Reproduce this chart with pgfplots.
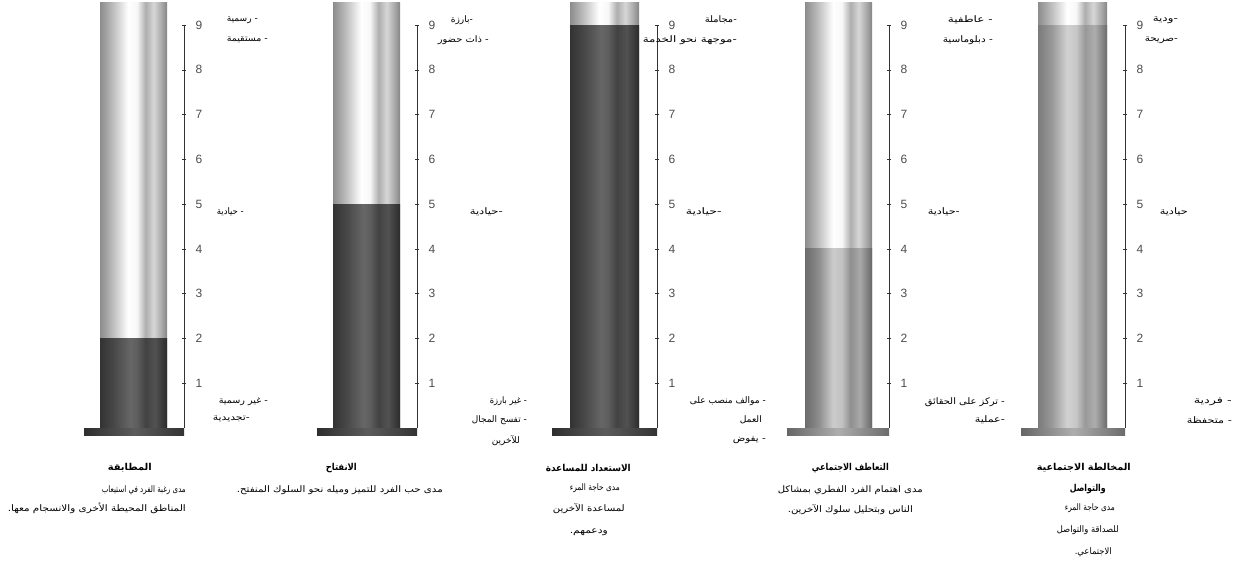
\documentclass[border=0pt]{standalone}
\usepackage{pgfplots}
\pgfplotsset{compat=1.18}
\usepackage{graphicx}
\usepackage{fontspec}
\setmainfont{Liberation Sans}
\newfontfamily\ar[Script=Arabic]{DejaVu Sans}
\TeXXeTstate=1

\pgfdeclarehorizontalshading{lightcyl}{100bp}{rgb(0bp)=(0.55,0.55,0.55); rgb(25bp)=(0.55,0.55,0.55); rgb(35bp)=(0.75,0.75,0.75); rgb(46bp)=(1,1,1); rgb(52.5bp)=(0.97,0.97,0.97); rgb(59bp)=(0.68,0.68,0.68); rgb(65bp)=(0.84,0.84,0.84); rgb(71bp)=(0.66,0.66,0.66); rgb(75bp)=(0.52,0.52,0.52); rgb(100bp)=(0.52,0.52,0.52)}
\pgfdeclarehorizontalshading{darkcyl}{100bp}{rgb(0bp)=(0.2,0.2,0.2); rgb(25bp)=(0.2,0.2,0.2); rgb(35bp)=(0.28,0.28,0.28); rgb(47.5bp)=(0.40,0.40,0.40); rgb(52.5bp)=(0.37,0.37,0.37); rgb(59bp)=(0.26,0.26,0.26); rgb(66bp)=(0.32,0.32,0.32); rgb(75bp)=(0.17,0.17,0.17); rgb(100bp)=(0.17,0.17,0.17)}
\pgfdeclarehorizontalshading{midcyl}{100bp}{rgb(0bp)=(0.42,0.42,0.42); rgb(25bp)=(0.42,0.42,0.42); rgb(35bp)=(0.55,0.55,0.55); rgb(46bp)=(0.80,0.80,0.80); rgb(52.5bp)=(0.76,0.76,0.76); rgb(59bp)=(0.56,0.56,0.56); rgb(66bp)=(0.66,0.66,0.66); rgb(75bp)=(0.40,0.40,0.40); rgb(100bp)=(0.40,0.40,0.40)}
\pgfdeclarehorizontalshading{midcylb}{100bp}{rgb(0bp)=(0.48,0.48,0.48); rgb(25bp)=(0.48,0.48,0.48); rgb(35bp)=(0.60,0.60,0.60); rgb(46bp)=(0.82,0.82,0.82); rgb(52.5bp)=(0.78,0.78,0.78); rgb(59bp)=(0.60,0.60,0.60); rgb(66bp)=(0.68,0.68,0.68); rgb(75bp)=(0.42,0.42,0.42); rgb(100bp)=(0.42,0.42,0.42)}
\pgfdeclarehorizontalshading{basedark}{100bp}{rgb(0bp)=(0.18,0.18,0.18); rgb(25bp)=(0.18,0.18,0.18); rgb(50bp)=(0.36,0.36,0.36); rgb(75bp)=(0.2,0.2,0.2); rgb(100bp)=(0.2,0.2,0.2)}
\pgfdeclarehorizontalshading{basegray}{100bp}{rgb(0bp)=(0.40,0.40,0.40); rgb(25bp)=(0.40,0.40,0.40); rgb(50bp)=(0.68,0.68,0.68); rgb(75bp)=(0.42,0.42,0.42); rgb(100bp)=(0.42,0.42,0.42)}

\pgfplotsset{panel/.style={scale only axis, height=403pt, ymin=0, ymax=9, xmin=0, clip=false,
  axis x line=none, axis y line=right, axis line style={-, draw=black!80},
  ytick={1,2,3,4,5,6,7,8,9}, tick align=center, major tick length=4pt, tick style={black!80, thin},
  yticklabel style={font=\fontsize{12}{12}\selectfont, text=black!70, xshift=6pt},
  /pgf/number format/assume math mode=true, anchor=south west}}

\tikzset{L/.style={inner sep=0pt, anchor=east, font=\ar\fontsize{9}{11}\selectfont},
         T/.style={inner sep=0pt, anchor=east, font=\ar\bfseries\fontsize{9.5}{11}\selectfont}}
% right edge x, centre y, target width, text
\newcommand\fw[2]{\resizebox{#1pt}{\height}{#2}}
\newcommand\lab[4]{\node[L] at (#1,#2) {\fw{#3}{#4}};}
\newcommand\ttl[4]{\node[T] at (#1,#2) {\fw{#3}{#4}};}

\begin{document}
\begin{tikzpicture}[x=1pt,y=1pt]
\useasboundingbox (0,0) rectangle (1234,560);

% Panel 1
\begin{axis}[panel, at={(84pt,132pt)}, width=100pt, xmax=100]
\addplot[ybar, bar width=67pt, bar shift=0pt, draw=none, shading=lightcyl] coordinates {(49.5,9.5)};
\addplot[ybar, bar width=67pt, bar shift=0pt, draw=none, shading=darkcyl] coordinates {(49.5,2)};
\addplot[draw=none, shading=basedark] coordinates {(0,-0.16) (100,-0.16) (100,0) (0,0)} -- cycle;
\end{axis}
% Panel 2
\begin{axis}[panel, at={(317pt,132pt)}, width=100pt, xmax=100]
\addplot[ybar, bar width=67pt, bar shift=0pt, draw=none, shading=lightcyl] coordinates {(49.5,9.5)};
\addplot[ybar, bar width=67pt, bar shift=0pt, draw=none, shading=darkcyl] coordinates {(49.5,5)};
\addplot[draw=none, shading=basedark] coordinates {(0,-0.16) (100,-0.16) (100,0) (0,0)} -- cycle;
\end{axis}
% Panel 3
\begin{axis}[panel, at={(552pt,132pt)}, width=105pt, xmax=105]
\addplot[ybar, bar width=69pt, bar shift=0pt, draw=none, shading=lightcyl] coordinates {(52.5,9.5)};
\addplot[ybar, bar width=69pt, bar shift=0pt, draw=none, shading=darkcyl] coordinates {(52.5,9)};
\addplot[draw=none, shading=basedark] coordinates {(0,-0.16) (105,-0.16) (105,0) (0,0)} -- cycle;
\end{axis}
% Panel 4
\begin{axis}[panel, at={(787pt,132pt)}, width=102pt, xmax=102]
\addplot[ybar, bar width=67pt, bar shift=0pt, draw=none, shading=lightcyl] coordinates {(51.5,9.5)};
\addplot[ybar, bar width=67pt, bar shift=0pt, draw=none, shading=midcyl] coordinates {(51.5,4)};
\addplot[draw=none, shading=basegray] coordinates {(0,-0.16) (102,-0.16) (102,0) (0,0)} -- cycle;
\end{axis}
% Panel 5
\begin{axis}[panel, at={(1021pt,132pt)}, width=104pt, xmax=104]
\addplot[ybar, bar width=69pt, bar shift=0pt, draw=none, shading=lightcyl] coordinates {(51.5,9.5)};
\addplot[ybar, bar width=69pt, bar shift=0pt, draw=none, shading=midcylb] coordinates {(51.5,9)};
\addplot[draw=none, shading=basegray] coordinates {(0,-0.16) (104,-0.16) (104,0) (0,0)} -- cycle;
\end{axis}

% Panel 1 texts
\lab{258}{540}{31}{\beginR - رسمية\endR}
\lab{268}{520}{41}{\beginR - مستقيمة\endR}
\lab{244}{348}{27}{\beginR - حيادية\endR}
\lab{268}{158}{49}{\beginR - غير رسمية\endR}
\lab{250}{141}{37}{\beginR -تجديدية\endR}
\ttl{152}{92}{44}{\beginR المطابقة\endR}
\lab{186}{70}{84}{\beginR مدى رغبة الفرد في استيعاب\endR}
\lab{186}{52}{178}{\beginR المناطق المحيطة الأخرى والانسجام معها.\endR}
% Panel 2 texts
\lab{473}{540}{22}{\beginR -بارزة\endR}
\lab{489}{520}{51}{\beginR - ذات حضور\endR}
\lab{503}{348}{33}{\beginR -حيادية\endR}
\lab{527}{159}{37}{\beginR - غير بارزة\endR}
\lab{527}{140}{55}{\beginR - تفسح المجال\endR}
\lab{520}{119}{28}{\beginR للآخرين\endR}
\ttl{357}{92}{31}{\beginR الانفتاح\endR}
\lab{443}{70}{206}{\beginR مدى حب الفرد للتميز وميله نحو السلوك المنفتح.\endR}
% Panel 3 texts
\lab{737}{540}{32}{\beginR -مجاملة\endR}
\lab{737}{520}{94}{\beginR -موجهة نحو الخدمة\endR}
\lab{722}{348}{36}{\beginR -حيادية\endR}
\lab{766}{159}{76}{\beginR - موالف منصب على\endR}
\lab{762}{140}{22}{\beginR العمل\endR}
\lab{766}{120}{33}{\beginR - يفوض\endR}
\ttl{631}{92}{85}{\beginR الاستعداد للمساعدة\endR}
\lab{620}{72}{50}{\beginR مدى حاجة المرء\endR}
\lab{625}{51}{72}{\beginR لمساعدة الآخرين\endR}
\lab{608}{28}{38}{\beginR ودعمهم.\endR}
% Panel 4 texts
\lab{993}{540}{45}{\beginR - عاطفية\endR}
\lab{993}{520}{50}{\beginR - دبلوماسية\endR}
\lab{960}{348}{32}{\beginR -حيادية\endR}
\lab{1005}{158}{80}{\beginR - تركز على الحقائق\endR}
\lab{1005}{140}{30}{\beginR -عملية\endR}
\ttl{889}{92}{77}{\beginR التعاطف الاجتماعي\endR}
\lab{923}{70}{145}{\beginR مدى اهتمام الفرد الفطري بمشاكل\endR}
\lab{913}{50}{125}{\beginR الناس وبتحليل سلوك الآخرين.\endR}
% Panel 5 texts
\lab{1178}{540}{25}{\beginR -ودية\endR}
\lab{1178}{520}{33}{\beginR -صريحة\endR}
\lab{1188}{348}{28}{\beginR حيادية\endR}
\lab{1232}{158}{38}{\beginR - فردية\endR}
\lab{1232}{140}{45}{\beginR - متحفظة\endR}
\ttl{1131}{92}{94}{\beginR المخالطة الاجتماعية\endR}
\ttl{1106}{71}{36}{\beginR والتواصل\endR}
\lab{1115}{52}{50}{\beginR مدى حاجة المرء\endR}
\lab{1119}{30}{62}{\beginR للصداقة والتواصل\endR}
\lab{1112}{8}{37}{\beginR الاجتماعي.\endR}
\end{tikzpicture}
\end{document}
